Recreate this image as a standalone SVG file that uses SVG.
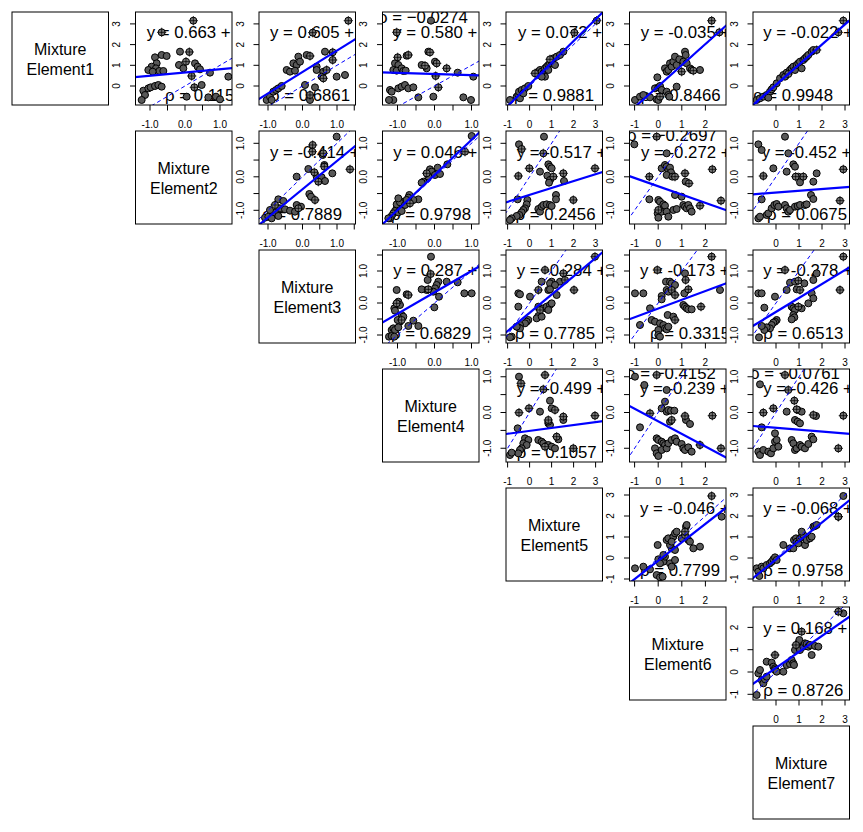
<svg xmlns="http://www.w3.org/2000/svg" width="863" height="832" viewBox="0 0 863 832">
<style>
.bx{fill:none;stroke:#000;stroke-width:1}
.lab{font-family:"Liberation Sans",Arial,sans-serif;font-size:16px;text-anchor:middle;fill:#000}
.t{font-family:"Liberation Sans",Arial,sans-serif;font-size:16.8px;fill:#000}
.ax{font-family:"Liberation Sans",Arial,sans-serif;font-size:10px;text-anchor:middle;fill:#000}
.tk{stroke:#000;stroke-width:1;fill:none}
.rl{stroke:#0000ff;stroke-width:2.2;fill:none}
.id{stroke:#0000ff;stroke-width:1;stroke-dasharray:4 3;fill:none}
.p{fill:none;stroke:none;marker-start:url(#d);marker-mid:url(#d);marker-end:url(#d)}
.q{fill:none;stroke:none;marker-start:url(#c);marker-mid:url(#c);marker-end:url(#c)}
</style>
<defs>
<marker id="d" markerUnits="userSpaceOnUse" viewBox="0 0 40 40" markerWidth="40" markerHeight="40" refX="20" refY="20" overflow="visible"><circle cx="20" cy="20" r="10.5" fill="#595959" stroke="#000" stroke-width="3"/></marker>
<marker id="c" markerUnits="userSpaceOnUse" viewBox="0 0 40 40" markerWidth="40" markerHeight="40" refX="20" refY="20" overflow="visible"><circle cx="20" cy="20" r="10.5" fill="#777" stroke="#000" stroke-width="3"/><path d="M6 20H34M20 6V34" stroke="#000" stroke-width="2.2"/></marker>
<g id="xa2"><path class="tk" d="M150 0v5.5M167.5 0v5.5M185 0v5.5M202.5 0v5.5M220 0v5.5"/><text class="ax" x="150" y="23">-1.0</text><text class="ax" x="185" y="23">0.0</text><text class="ax" x="220" y="23">1.0</text></g>
<g id="xa3"><path class="tk" d="M268 0v5.5M285.25 0v5.5M302.5 0v5.5M319.75 0v5.5M337 0v5.5M354.25 0v5.5"/><text class="ax" x="268" y="23">-1.0</text><text class="ax" x="302.5" y="23">0.0</text><text class="ax" x="337" y="23">1.0</text></g>
<g id="xa4"><path class="tk" d="M397.5 0v5.5M416 0v5.5M434.5 0v5.5M453 0v5.5M471.5 0v5.5"/><text class="ax" x="397.5" y="23">-1.0</text><text class="ax" x="434.5" y="23">0.0</text><text class="ax" x="471.5" y="23">1.0</text></g>
<g id="xa5"><path class="tk" d="M507.6 0v5.5M529.6 0v5.5M551.6 0v5.5M573.6 0v5.5M595.6 0v5.5"/><text class="ax" x="507.6" y="23">-1</text><text class="ax" x="529.6" y="23">0</text><text class="ax" x="551.6" y="23">1</text><text class="ax" x="573.6" y="23">2</text><text class="ax" x="595.6" y="23">3</text></g>
<g id="xa6"><path class="tk" d="M634.6 0v5.5M658.2 0v5.5M681.8 0v5.5M705.4 0v5.5"/><text class="ax" x="634.6" y="23">-1</text><text class="ax" x="658.2" y="23">0</text><text class="ax" x="681.8" y="23">1</text><text class="ax" x="705.4" y="23">2</text></g>
<g id="xa7"><path class="tk" d="M776 0v5.5M799 0v5.5M822 0v5.5M845 0v5.5"/><text class="ax" x="776" y="23">0</text><text class="ax" x="799" y="23">1</text><text class="ax" x="822" y="23">2</text><text class="ax" x="845" y="23">3</text></g>
<g id="ya1"><path class="tk" d="M-5.5 86h5.5M-5.5 65.3h5.5M-5.5 44.6h5.5M-5.5 23.9h5.5"/><text class="ax" transform="translate(-15.5 86) rotate(-90)">0</text><text class="ax" transform="translate(-15.5 65.3) rotate(-90)">1</text><text class="ax" transform="translate(-15.5 44.6) rotate(-90)">2</text><text class="ax" transform="translate(-15.5 23.9) rotate(-90)">3</text></g>
<g id="ya2"><path class="tk" d="M-5.5 210.3h5.5M-5.5 193.55h5.5M-5.5 176.8h5.5M-5.5 160.05h5.5M-5.5 143.3h5.5"/><text class="ax" transform="translate(-15.5 210.3) rotate(-90)">-1.0</text><text class="ax" transform="translate(-15.5 176.8) rotate(-90)">0.0</text><text class="ax" transform="translate(-15.5 143.3) rotate(-90)">1.0</text></g>
<g id="ya3"><path class="tk" d="M-5.5 335h5.5M-5.5 319h5.5M-5.5 303h5.5M-5.5 287h5.5M-5.5 271h5.5M-5.5 255h5.5"/><text class="ax" transform="translate(-15.5 335) rotate(-90)">-1.0</text><text class="ax" transform="translate(-15.5 303) rotate(-90)">0.0</text><text class="ax" transform="translate(-15.5 271) rotate(-90)">1.0</text></g>
<g id="ya4"><path class="tk" d="M-5.5 448.25h5.5M-5.5 430.4h5.5M-5.5 412.5h5.5M-5.5 394.6h5.5M-5.5 376.75h5.5"/><text class="ax" transform="translate(-15.5 448.25) rotate(-90)">-1.0</text><text class="ax" transform="translate(-15.5 412.5) rotate(-90)">0.0</text><text class="ax" transform="translate(-15.5 376.75) rotate(-90)">1.0</text></g>
<g id="ya5"><path class="tk" d="M-5.5 579h5.5M-5.5 558h5.5M-5.5 537h5.5M-5.5 516h5.5M-5.5 495h5.5"/><text class="ax" transform="translate(-15.5 579) rotate(-90)">-1</text><text class="ax" transform="translate(-15.5 558) rotate(-90)">0</text><text class="ax" transform="translate(-15.5 537) rotate(-90)">1</text><text class="ax" transform="translate(-15.5 516) rotate(-90)">2</text><text class="ax" transform="translate(-15.5 495) rotate(-90)">3</text></g>
<g id="ya6"><path class="tk" d="M-5.5 694.3h5.5M-5.5 672h5.5M-5.5 649.7h5.5M-5.5 627.4h5.5"/><text class="ax" transform="translate(-15.5 694.3) rotate(-90)">-1</text><text class="ax" transform="translate(-15.5 672) rotate(-90)">0</text><text class="ax" transform="translate(-15.5 649.7) rotate(-90)">1</text><text class="ax" transform="translate(-15.5 627.4) rotate(-90)">2</text></g>
<clipPath id="k12"><rect x="135.5" y="12" width="96.5" height="93"/></clipPath>
<clipPath id="k13"><rect x="259" y="12" width="96.5" height="93"/></clipPath>
<clipPath id="k14"><rect x="382.5" y="12" width="96.5" height="93"/></clipPath>
<clipPath id="k15"><rect x="506" y="12" width="96.5" height="93"/></clipPath>
<clipPath id="k16"><rect x="629.5" y="12" width="96.5" height="93"/></clipPath>
<clipPath id="k17"><rect x="753" y="12" width="96.5" height="93"/></clipPath>
<clipPath id="k23"><rect x="259" y="131" width="96.5" height="93"/></clipPath>
<clipPath id="k24"><rect x="382.5" y="131" width="96.5" height="93"/></clipPath>
<clipPath id="k25"><rect x="506" y="131" width="96.5" height="93"/></clipPath>
<clipPath id="k26"><rect x="629.5" y="131" width="96.5" height="93"/></clipPath>
<clipPath id="k27"><rect x="753" y="131" width="96.5" height="93"/></clipPath>
<clipPath id="k34"><rect x="382.5" y="250" width="96.5" height="93"/></clipPath>
<clipPath id="k35"><rect x="506" y="250" width="96.5" height="93"/></clipPath>
<clipPath id="k36"><rect x="629.5" y="250" width="96.5" height="93"/></clipPath>
<clipPath id="k37"><rect x="753" y="250" width="96.5" height="93"/></clipPath>
<clipPath id="k45"><rect x="506" y="369" width="96.5" height="93"/></clipPath>
<clipPath id="k46"><rect x="629.5" y="369" width="96.5" height="93"/></clipPath>
<clipPath id="k47"><rect x="753" y="369" width="96.5" height="93"/></clipPath>
<clipPath id="k56"><rect x="629.5" y="488" width="96.5" height="93"/></clipPath>
<clipPath id="k57"><rect x="753" y="488" width="96.5" height="93"/></clipPath>
<clipPath id="k67"><rect x="753" y="607" width="96.5" height="93"/></clipPath>
</defs>
<rect x="0" y="0" width="863" height="832" fill="#fff"/>

<g id="label-1"><rect class="bx" x="12" y="12" width="96.5" height="93"/><text class="lab" x="60.25" y="55">Mixture</text><text class="lab" x="60.25" y="75">Element1</text></g>
<g id="label-2"><rect class="bx" x="135.5" y="131" width="96.5" height="93"/><text class="lab" x="183.75" y="174">Mixture</text><text class="lab" x="183.75" y="194">Element2</text></g>
<g id="label-3"><rect class="bx" x="259" y="250" width="96.5" height="93"/><text class="lab" x="307.25" y="293">Mixture</text><text class="lab" x="307.25" y="313">Element3</text></g>
<g id="label-4"><rect class="bx" x="382.5" y="369" width="96.5" height="93"/><text class="lab" x="430.75" y="412">Mixture</text><text class="lab" x="430.75" y="432">Element4</text></g>
<g id="label-5"><rect class="bx" x="506" y="488" width="96.5" height="93"/><text class="lab" x="554.25" y="531">Mixture</text><text class="lab" x="554.25" y="551">Element5</text></g>
<g id="label-6"><rect class="bx" x="629.5" y="607" width="96.5" height="93"/><text class="lab" x="677.75" y="650">Mixture</text><text class="lab" x="677.75" y="670">Element6</text></g>
<g id="label-7"><rect class="bx" x="753" y="726" width="96.5" height="93"/><text class="lab" x="801.25" y="769">Mixture</text><text class="lab" x="801.25" y="789">Element7</text></g>

<g id="panel-1-2">
<g clip-path="url(#k12)">
<text class="t" x="146.7" y="38">y = 0.663 + 0</text><text class="t" x="165" y="101">ρ = 0.115</text>
<g transform="translate(130 0) scale(0.33333)"><polyline class="p" points="75,172 95,165 110,168 80,190 65,200 78,205 88,213 55,210 68,215 100,213 150,155 147,195 160,205 195,190 203,200 210,208 240,218 295,230 40,272 55,265 62,262 75,258 85,255 95,260 45,285 35,300 170,290 235,292 258,290 270,298 215,255"/><polyline class="q" points="190,62 95,97 178,156 168,185 185,228 193,262"/></g>
<line class="id" x1="115" y1="127.4" x2="325" y2="3.2"/><line class="rl" x1="130" y1="77.5" x2="240" y2="67.3"/>
</g>
<rect class="bx" x="135.5" y="12" width="96.5" height="93"/><use href="#xa2" y="105"/><use href="#ya1" x="135.5"/>
</g>

<g id="panel-1-3">
<g clip-path="url(#k13)">
<text class="t" x="270" y="38">y = 0.605 + 1</text><text class="t" x="270" y="101">ρ = 0.6861</text>
<g transform="translate(130 0) scale(0.33333)"><polyline class="p" points="530,165 505,170 490,190 500,195 510,185 470,210 480,215 495,212 560,200 560,210 580,215 575,230 620,230 645,225 410,300 420,290 430,275 438,270 445,265 455,258 425,300 540,300 555,262 525,255 585,155"/><polyline class="q" points="655,62 548,98 540,168 608,157 590,210 580,235 608,180 540,285"/></g>
<line class="id" x1="233.5" y1="127.4" x2="440.5" y2="3.2"/><line class="rl" x1="255" y1="101.5" x2="360" y2="36.2"/>
</g>
<rect class="bx" x="259" y="12" width="96.5" height="93"/><use href="#xa3" y="105"/><use href="#ya1" x="259"/>
</g>

<g id="panel-1-4">
<g clip-path="url(#k14)">
<text class="t" x="393.3" y="38">y = 0.580 + -</text><text class="t" x="378" y="22.7">ρ = −0.0274</text>
<g transform="translate(375 0) scale(0.33333)"><polyline class="p" points="60,190 70,195 55,210 65,212 80,205 85,213 92,212 95,167 140,195 155,205 160,155 180,185 248,218 295,230 45,270 50,275 55,300 42,300 70,265 80,260 90,255 100,265 115,262 130,292 175,290 265,292 288,300 168,62"/><polyline class="q" points="65,97 68,172 100,165 150,197 165,157 185,190 215,205 182,228 190,262"/></g>
<line class="id" x1="360.5" y1="127.4" x2="582.5" y2="3.2"/><line class="rl" x1="378" y1="72.2" x2="484" y2="75.5"/>
</g>
<rect class="bx" x="382.5" y="12" width="96.5" height="93"/><use href="#xa4" y="105"/><use href="#ya1" x="382.5"/>
</g>

<g id="panel-1-5">
<g clip-path="url(#k15)">
<text class="t" x="518" y="38">y = 0.072 + 1</text><text class="t" x="514" y="101">ρ = 0.9881</text>
<g transform="translate(375 0) scale(0.33333)"><polyline class="p" points="405,300 425,290 430,285 432,275 440,270 450,265 460,258 435,295 445,280 490,215 495,210 500,215 505,220 505,225 510,205 515,200 520,195 525,190 530,185 510,230 500,230 535,175 545,170 555,165 565,155 520,210 540,195"/><polyline class="q" points="598,98 665,62 480,220 525,178"/></g>
<line class="id" x1="485.6" y1="127.4" x2="617.6" y2="3.2"/><line class="rl" x1="500" y1="113.6" x2="610" y2="5.1"/>
</g>
<rect class="bx" x="506" y="12" width="96.5" height="93"/><use href="#xa5" y="105"/><use href="#ya1" x="506"/>
</g>

<g id="panel-1-6">
<g clip-path="url(#k16)">
<text class="t" x="640.7" y="38">y = -0.035 +</text><text class="t" x="640.7" y="101">ρ = 0.8466</text>
<g transform="translate(620 0) scale(0.33333)"><polyline class="p" points="45,300 60,290 70,285 90,292 110,298 115,300 105,265 115,262 120,258 125,270 140,275 145,285 148,290 112,232 135,205 140,215 145,210 150,190 155,200 160,185 165,170 170,195 178,178 190,185 195,155 197,165 200,190 210,205 215,210 240,210 170,260"/><polyline class="q" points="275,62 298,97 220,212 185,215 120,290"/></g>
<line class="id" x1="611" y1="127.4" x2="752.6" y2="3.2"/><line class="rl" x1="625" y1="115.9" x2="735" y2="17.6"/>
</g>
<rect class="bx" x="629.5" y="12" width="96.5" height="93"/><use href="#xa6" y="105"/><use href="#ya1" x="629.5"/>
</g>

<g id="panel-1-7">
<g clip-path="url(#k17)">
<text class="t" x="763.3" y="38">y = -0.022 +</text><text class="t" x="753" y="101">ρ = 0.9948</text>
<g transform="translate(620 0) scale(0.33333)"><polyline class="p" points="410,300 420,295 430,290 440,285 450,275 455,268 460,262 470,250 480,235 490,225 500,218 510,210 515,205 520,200 525,210 530,195 535,190 540,185 545,205 550,180 555,175 560,170 565,165 575,155 580,150 495,230 445,293"/><polyline class="q" points="670,62 655,97 590,150 505,222"/></g>
<line class="id" x1="730" y1="127.4" x2="868" y2="3.2"/><line class="rl" x1="745" y1="111.9" x2="855" y2="15.6"/>
</g>
<rect class="bx" x="753" y="12" width="96.5" height="93"/><use href="#xa7" y="105"/><use href="#ya1" x="753"/>
</g>

<g id="panel-2-3">
<g clip-path="url(#k23)">
<text class="t" x="270" y="157.5">y = -0.414 +</text><text class="t" x="262" y="220">ρ = 0.7889</text>
<g transform="translate(225 120) scale(0.33333)"><polyline class="p" points="335,50 293,105 298,135 250,147 322,160 275,170 285,180 290,172 300,183 215,170 253,222 258,230 160,238 175,243 165,265 180,268 195,272 210,275 228,260 215,255 120,293 130,290 145,283 150,278 140,295 160,288 135,270"/><polyline class="q" points="263,75 262,95 295,100 298,140 375,148 268,157 280,185 270,240 150,255 220,265"/></g>
<line class="id" x1="233.5" y1="243.8" x2="440.5" y2="42.8"/><line class="rl" x1="255" y1="228.1" x2="360" y2="142.1"/>
</g>
<rect class="bx" x="259" y="131" width="96.5" height="93"/><use href="#xa3" y="224"/><use href="#ya2" x="259"/>
</g>

<g id="panel-2-4">
<g clip-path="url(#k24)">
<text class="t" x="393.3" y="157.5">y = 0.046 + 1</text><text class="t" x="391" y="220">ρ = 0.9798</text>
<g transform="translate(370 105) scale(0.33333)"><polyline class="p" points="305,93 232,178 203,188 180,193 185,200 160,230 155,233 175,215 195,210 210,207 145,283 130,285 118,270 115,278 100,290 95,300 90,305 80,310 75,318 70,325 85,322 65,333 60,340 55,340 80,298 90,292 105,300 95,318 110,285 85,280"/><polyline class="q" points="285,140 170,205 120,295"/></g>
<line class="id" x1="360.5" y1="243.8" x2="582.5" y2="42.8"/><line class="rl" x1="375" y1="231.4" x2="485" y2="127"/>
</g>
<rect class="bx" x="382.5" y="131" width="96.5" height="93"/><use href="#xa4" y="224"/><use href="#ya2" x="382.5"/>
</g>

<g id="panel-2-5">
<g clip-path="url(#k25)">
<text class="t" x="516.7" y="157.5">y = -0.517 +</text><text class="t" x="515.5" y="220">ρ = 0.2456</text>
<g transform="translate(370 105) scale(0.33333)"><polyline class="p" points="447,118 522,95 510,200 535,178 540,185 545,190 532,212 540,225 537,233 582,228 443,283 472,285 470,298 465,310 460,315 455,322 448,330 440,333 425,340 420,345 505,312 510,320 515,305 520,300 530,298 540,300 545,303 558,270 558,283"/><polyline class="q" points="455,132 520,145 478,190 445,213 550,215 580,205 675,190 610,285"/></g>
<line class="id" x1="485.6" y1="243.8" x2="617.6" y2="42.8"/><line class="rl" x1="500" y1="204.2" x2="610" y2="169.6"/>
</g>
<rect class="bx" x="506" y="131" width="96.5" height="93"/><use href="#xa5" y="224"/><use href="#ya2" x="506"/>
</g>

<g id="panel-2-6">
<g clip-path="url(#k26)">
<text class="t" x="641" y="157.5">y = -0.272 +</text><text class="t" x="627" y="141">ρ = −0.2697</text>
<g transform="translate(615 105) scale(0.33333)"><polyline class="p" points="58,118 155,145 140,190 150,180 155,185 160,195 165,188 168,202 155,210 172,215 212,230 103,283 130,285 135,290 145,298 150,302 128,325 130,338 140,320 155,320 160,335 175,315 185,312 205,300 210,305 215,310 220,300 225,310 230,320 180,270 200,275"/><polyline class="q" points="125,95 103,215 180,215 210,205 222,235 292,193 318,287 130,315 255,302"/></g>
<line class="id" x1="611" y1="243.8" x2="752.6" y2="42.8"/><line class="rl" x1="624" y1="174.2" x2="734" y2="213"/>
</g>
<rect class="bx" x="629.5" y="131" width="96.5" height="93"/><use href="#xa6" y="224"/><use href="#ya2" x="629.5"/>
</g>

<g id="panel-2-7">
<g clip-path="url(#k27)">
<text class="t" x="761.7" y="157.5">y = -0.452 +</text><text class="t" x="767" y="220">ρ = 0.0675</text>
<g transform="translate(615 105) scale(0.33333)"><polyline class="p" points="430,118 510,95 440,135 520,145 475,190 515,200 535,178 540,185 550,215 555,232 595,230 605,205 440,283 430,340 435,335 455,330 460,325 470,310 478,300 485,297 490,305 510,300 515,310 520,320 525,315 540,305 548,303 555,300 570,300 575,298 588,270 595,282"/><polyline class="q" points="445,213 542,215 565,215 685,193 675,287"/></g>
<line class="id" x1="730" y1="243.8" x2="868" y2="42.8"/><line class="rl" x1="745" y1="194.9" x2="855" y2="186.4"/>
</g>
<rect class="bx" x="753" y="131" width="96.5" height="93"/><use href="#xa7" y="224"/><use href="#ya2" x="753"/>
</g>

<g id="panel-3-4">
<g clip-path="url(#k34)">
<text class="t" x="393.3" y="276">y = 0.287 + 0</text><text class="t" x="391" y="338.5">ρ = 0.6829</text>
<g transform="translate(235 240) scale(0.33333)"><polyline class="p" points="588,50 485,150 515,163 578,120 575,150 560,148 610,125 605,135 600,145 635,125 668,127 688,160 710,160 598,202 595,155 612,170 478,205 490,185 495,195 480,212 500,225 505,230 520,258 495,245 488,240 535,242 550,258 462,290 470,270 475,265 480,270 490,262 470,288 478,290"/><polyline class="q" points="587,102 520,165 580,148 485,190 500,240"/></g>
<line class="id" x1="360.5" y1="367" x2="582.5" y2="175"/><line class="rl" x1="377" y1="325.6" x2="487" y2="262"/>
</g>
<rect class="bx" x="382.5" y="250" width="96.5" height="93"/><use href="#xa4" y="343"/><use href="#ya3" x="382.5"/>
</g>

<g id="panel-3-5">
<g clip-path="url(#k35)">
<text class="t" x="516.7" y="276">y = -0.284 +</text><text class="t" x="515" y="338.5">ρ = 0.7785</text>
<g transform="translate(235 240) scale(0.33333)"><polyline class="p" points="950,125 945,130 975,125 960,135 920,125 940,150 945,148 965,165 885,170 850,160 855,163 850,200 910,200 925,205 935,200 945,195 950,190 940,210 910,228 905,235 920,230 880,240 875,245 870,250 855,255 850,262 855,265 845,260 830,290 825,292"/><polyline class="q" points="1080,50 930,90 985,100 990,120 910,150 1017,150 915,210"/></g>
<line class="id" x1="485.6" y1="367" x2="617.6" y2="175"/><line class="rl" x1="500" y1="337.4" x2="610" y2="246.1"/>
</g>
<rect class="bx" x="506" y="250" width="96.5" height="93"/><use href="#xa5" y="343"/><use href="#ya3" x="506"/>
</g>

<g id="panel-3-6">
<g clip-path="url(#k36)">
<text class="t" x="640" y="276">y = -0.173 + 0</text><text class="t" x="650" y="338.5">ρ = 0.3315</text>
<g transform="translate(605 240) scale(0.33333)"><polyline class="p" points="240,100 183,125 195,125 200,130 210,135 185,150 190,155 238,160 90,160 115,160 135,205 170,168 170,178 235,195 240,200 245,205 250,208 260,208 345,150 188,225 205,230 105,255 140,240 150,245 165,250 175,255 160,270 180,265 185,268 190,260 160,285 165,290"/><polyline class="q" points="320,50 157,90 200,150 210,165 242,120 250,148 288,200 210,240"/></g>
<line class="id" x1="611" y1="367" x2="752.6" y2="175"/><line class="rl" x1="624" y1="321.2" x2="734" y2="280.4"/>
</g>
<rect class="bx" x="629.5" y="250" width="96.5" height="93"/><use href="#xa6" y="343"/><use href="#ya3" x="629.5"/>
</g>

<g id="panel-3-7">
<g clip-path="url(#k37)">
<text class="t" x="763.3" y="276">y = -0.278 + 0</text><text class="t" x="763.3" y="338.5">ρ = 0.6513</text>
<g transform="translate(605 240) scale(0.33333)"><polyline class="p" points="555,128 570,125 598,130 575,148 625,120 635,100 545,150 460,160 470,160 478,203 510,170 560,200 565,205 570,210 590,205 610,190 620,160 625,175 565,225 568,232 560,238 515,240 510,245 505,248 500,255 495,265 485,262 478,270 470,258 462,292"/><polyline class="q" points="715,50 540,90 580,122 585,150 580,200 705,150"/></g>
<line class="id" x1="730" y1="367" x2="868" y2="175"/><line class="rl" x1="747" y1="329.5" x2="857" y2="262.8"/>
</g>
<rect class="bx" x="753" y="250" width="96.5" height="93"/><use href="#xa7" y="343"/><use href="#ya3" x="753"/>
</g>

<g id="panel-4-5">
<g clip-path="url(#k45)">
<text class="t" x="516.7" y="394">y = -0.499 +</text><text class="t" x="516.7" y="457.5">ρ = 0.1057</text>
<g transform="translate(235 240) scale(0.33333)"><polyline class="p" points="852,410 945,482 940,550 945,555 940,545 985,540 950,505 915,515 848,565 870,595 880,600 865,610 875,615 860,625 855,630 850,640 825,645 830,638 910,600 920,605 925,610 940,615 950,620 960,625 970,598"/><polyline class="q" points="858,430 930,405 925,448 940,540 985,530 960,510 882,505 852,518 1080,527 930,620 965,590 1015,625"/></g>
<line class="id" x1="485.6" y1="484" x2="617.6" y2="269.5"/><line class="rl" x1="500" y1="434.8" x2="610" y2="420.3"/>
</g>
<rect class="bx" x="506" y="369" width="96.5" height="93"/><use href="#xa5" y="462"/><use href="#ya4" x="506"/>
</g>

<g id="panel-4-6">
<g clip-path="url(#k46)">
<text class="t" x="640" y="394">y = -0.239 +</text><text class="t" x="626" y="378.5">ρ = −0.4152</text>
<g transform="translate(605 240) scale(0.33333)"><polyline class="p" points="90,410 118,435 185,450 180,485 170,505 185,515 190,510 198,512 208,512 195,545 243,540 255,552 105,562 155,595 160,600 170,605 175,610 180,615 150,625 155,640 160,648 170,630 185,625 190,610 200,600 210,595 215,605 230,612 235,625 240,630 250,622 260,635"/><polyline class="q" points="155,405 200,540 240,528 322,527 135,520 285,615 348,625"/></g>
<line class="id" x1="611" y1="484" x2="752.6" y2="269.5"/><line class="rl" x1="624" y1="403" x2="734" y2="461.7"/>
</g>
<rect class="bx" x="629.5" y="369" width="96.5" height="93"/><use href="#xa6" y="462"/><use href="#ya4" x="629.5"/>
</g>

<g id="panel-4-7">
<g clip-path="url(#k47)">
<text class="t" x="763.3" y="394">y = -0.426 +</text><text class="t" x="750" y="378.5">ρ = −0.0761</text>
<g transform="translate(605 240) scale(0.33333)"><polyline class="p" points="465,433 545,515 578,510 590,515 570,540 578,545 585,550 633,528 470,562 460,635 465,645 475,630 490,635 498,640 505,625 510,605 510,580 515,600 520,620 560,600 565,610 570,630 575,625 585,615 590,620 600,625 610,612 620,590 625,598"/><polyline class="q" points="540,405 475,518 505,505 550,450 568,482 575,508 625,525 715,527 700,625"/></g>
<line class="id" x1="730" y1="484" x2="868" y2="269.5"/><line class="rl" x1="747" y1="425.5" x2="857" y2="434.4"/>
</g>
<rect class="bx" x="753" y="369" width="96.5" height="93"/><use href="#xa7" y="462"/><use href="#ya4" x="753"/>
</g>

<g id="panel-5-6">
<g clip-path="url(#k56)">
<text class="t" x="640" y="513.5">y = -0.046 +</text><text class="t" x="640" y="576">ρ = 0.7799</text>
<g transform="translate(490 470) scale(0.33333)"><polyline class="p" points="695,140 503,225 435,295 460,290 480,298 500,315 510,322 518,320 505,268 515,270 520,275 525,260 510,280 540,280 545,290 555,270 545,235 540,225 530,210 535,205 550,200 555,190 560,185 545,215 575,205 588,170 590,165 595,210 600,215 610,235 630,230 555,240 520,255"/><polyline class="q" points="665,78 585,195 585,185"/></g>
<line class="id" x1="611" y1="600" x2="752.6" y2="474"/><line class="rl" x1="624" y1="587.4" x2="734" y2="501.5"/>
</g>
<rect class="bx" x="629.5" y="488" width="96.5" height="93"/><use href="#xa6" y="581"/><use href="#ya5" x="629.5"/>
</g>

<g id="panel-5-7">
<g clip-path="url(#k57)">
<text class="t" x="763.3" y="513.5">y = -0.068 +</text><text class="t" x="763.3" y="576">ρ = 0.9758</text>
<g transform="translate(490 470) scale(0.33333)"><polyline class="p" points="1060,78 800,295 805,305 808,318 815,290 820,295 830,285 840,280 845,275 850,268 855,262 860,270 880,225 900,235 910,235 912,210 918,205 920,215 925,220 930,205 935,200 940,195 945,225 950,210 960,205 965,200 970,170 975,168 980,165 935,185"/><polyline class="q" points="1045,140 1045,140"/></g>
<line class="id" x1="730" y1="600" x2="868" y2="474"/><line class="rl" x1="747" y1="582.9" x2="857" y2="494.2"/>
</g>
<rect class="bx" x="753" y="488" width="96.5" height="93"/><use href="#xa7" y="581"/><use href="#ya5" x="753"/>
</g>

<g id="panel-6-7">
<g clip-path="url(#k67)">
<text class="t" x="763.3" y="634">y = 0.168 + 0</text><text class="t" x="763.3" y="695.5">ρ = 0.8726</text>
<g transform="translate(490 470) scale(0.33333)"><polyline class="p" points="1060,430 800,675 805,610 810,600 815,630 820,640 825,628 830,620 830,575 845,578 850,590 855,595 855,600 860,605 880,605 890,585 900,582 905,570 910,580 912,585 915,540 925,520 928,510 930,540 940,530 945,520 950,522 955,530 960,525 965,555 975,528 985,530"/><polyline class="q" points="1045,425 855,555 918,525 935,485"/></g>
<line class="id" x1="730" y1="716.6" x2="868" y2="582.8"/><line class="rl" x1="747" y1="688" x2="857" y2="611.6"/>
</g>
<rect class="bx" x="753" y="607" width="96.5" height="93"/><use href="#xa7" y="700"/><use href="#ya6" x="753"/>
</g>
</svg>
